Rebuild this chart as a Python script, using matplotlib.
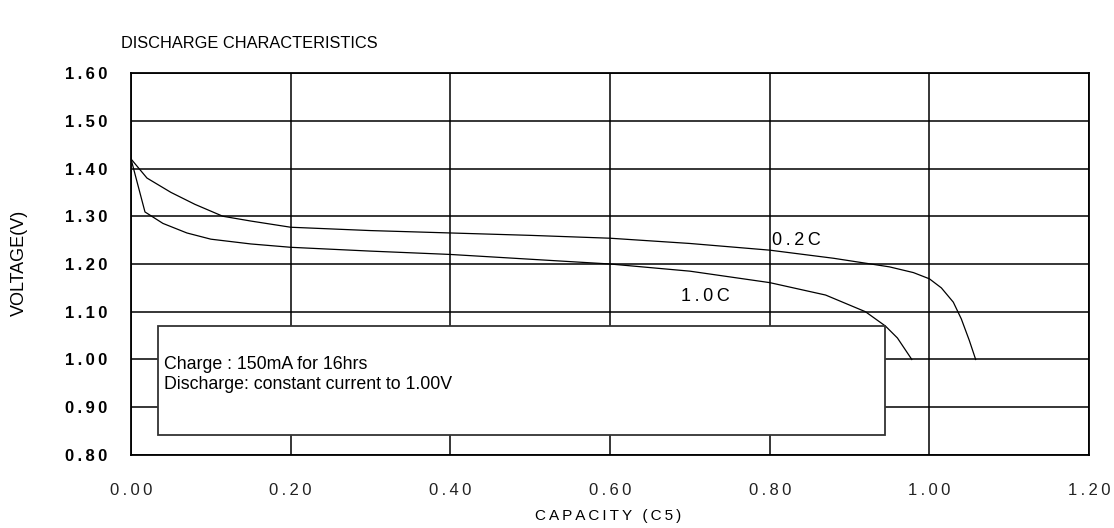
import numpy as np
import matplotlib
matplotlib.use('Agg')
import matplotlib.pyplot as plt
from matplotlib.patches import Rectangle

plt.rcParams['font.family'] = ['Liberation Sans', 'DejaVu Sans']

# 0.2C discharge curve (capacity C5, voltage V)
cap_02 = [0.0, 0.02, 0.05, 0.08, 0.115, 0.15, 0.20, 0.30, 0.40, 0.50, 0.60, 0.70, 0.80, 0.88, 0.95, 0.98, 1.00, 1.015, 1.03, 1.04, 1.05, 1.058]
volt_02 = [1.42, 1.38, 1.35, 1.325, 1.30, 1.29, 1.277, 1.27, 1.265, 1.26, 1.254, 1.243, 1.229, 1.212, 1.194, 1.182, 1.169, 1.15, 1.12, 1.085, 1.04, 1.00]

# 1.0C discharge curve
cap_10 = [0.0, 0.0175, 0.04, 0.07, 0.10, 0.15, 0.20, 0.30, 0.40, 0.50, 0.60, 0.70, 0.80, 0.87, 0.92, 0.945, 0.96, 0.97, 0.978]
volt_10 = [1.42, 1.309, 1.285, 1.265, 1.252, 1.242, 1.235, 1.227, 1.22, 1.21, 1.20, 1.185, 1.161, 1.135, 1.10, 1.07, 1.045, 1.02, 1.00]

xticks = [0.0, 0.2, 0.4, 0.6, 0.8, 1.0, 1.2]
yticks = [0.8, 0.9, 1.0, 1.1, 1.2, 1.3, 1.4, 1.5, 1.6]


def spaced(s, n=1):
    # old chart renders some text with a bit of letter spacing
    return ('\u2009' * n).join(s)


fig = plt.figure(figsize=(11.14, 5.28), dpi=100)
ax = fig.add_axes([0.1176, 0.1383, 0.8600, 0.7234])

ax.plot(cap_02, volt_02, color='black', lw=0.9)
ax.plot(cap_10, volt_10, color='black', lw=0.9)

ax.set_xlim(0, 1.2)
ax.set_ylim(0.8, 1.6)
ax.set_xticks(xticks)
ax.set_yticks(yticks)
ax.set_xticklabels([spaced('%.2f' % v) for v in xticks], fontsize=12, color='#222222')
ax.set_yticklabels([spaced('%.2f' % v) for v in yticks], fontsize=12, fontweight='bold')
ax.tick_params(axis='x', length=0, pad=20)
ax.tick_params(axis='y', length=0, pad=17)
ax.grid(True, color='black', lw=1.1)
for s in ax.spines.values():
    s.set_linewidth(1.3)

ax.text(0.8025, 1.25, spaced('0.2C'), fontsize=13, va='center')
ax.text(0.689, 1.132, spaced('1.0C'), fontsize=13, va='center')

# note box
ax.add_patch(Rectangle((0.034, 0.842), 0.911, 0.228, facecolor='white',
                       edgecolor='#333333', lw=1.3, zorder=3))
ax.text(0.041, 0.989, 'Charge : 150mA for 16hrs', fontsize=12.8, va='center', zorder=4)
ax.text(0.041, 0.947, 'Discharge: constant current to 1.00V', fontsize=12.8, va='center', zorder=4)

fig.text(121 / 1114, 1 - 43 / 528, 'DISCHARGE CHARACTERISTICS', fontsize=11.8, va='center')
fig.text(19.5 / 1114, 1 - 263 / 528, 'VOLTAGE(V)', fontsize=13, rotation=90, va='center', ha='center')
fig.text(608 / 1114, 1 - 516 / 528, spaced('CAPACITY (C5)'), fontsize=11, va='center', ha='center')

fig.savefig('out.png', dpi=100)
